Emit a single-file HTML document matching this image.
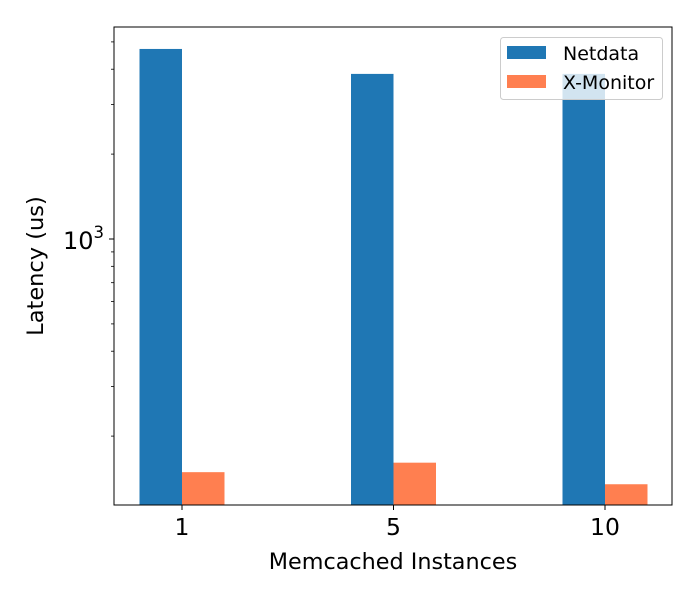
<!DOCTYPE html>
<html><head><meta charset="utf-8"><style>body{margin:0;background:#fff}svg{display:block;font-family:"DejaVu Sans","Liberation Sans",sans-serif}</style></head>
<body>
<svg id="chart" width="700" height="600"></svg>
<script>
const categories = ["1","5","10"];
const netdata = [4720, 3850, 3850];
const xmonitor = [149, 161, 135];
const seriesNames = ["Netdata","X-Monitor"];
const colors = ["#1f77b4","#ff7f50"];
const ns="http://www.w3.org/2000/svg", svg=document.getElementById('chart');
const L=114,R=672,T=27,B=505;
function y(v){return 239-282*Math.log10(v/1000);}
function x(i){return 182+i*211.5;}
function mk(t,a,p){const e=document.createElementNS(ns,t);for(const k in a)e.setAttribute(k,a[k]);(p||svg).appendChild(e);return e;}
const bw=42.5;
[netdata,xmonitor].forEach((s,si)=>{s.forEach((v,i)=>{
 const r=mk('rect',{x:x(i)+(si?0:-bw),y:y(v),width:bw,height:B-y(v),fill:colors[si]});
 
 
});});
const f=mk('rect',{x:L,y:T,width:R-L,height:B-T,fill:'none',stroke:'#000','stroke-width':1});

categories.forEach((c,i)=>{mk('line',{x1:x(i),x2:x(i),y1:B,y2:B+5,stroke:'#000'});
 const t=mk('text',{x:x(i),y:B+30,'text-anchor':'middle','font-size':23.5});t.textContent=c;
 });
for(let d=100;d<=1000;d*=10)for(let m=1;m<10;m++){const v=d*m;const yy=y(v);if(yy<T||yy>B)continue;
 const major=(m===1);mk('line',{x1:L,x2:L-(major?5:3),y1:yy,y2:yy,stroke:'#000','stroke-width':major?1:0.8});}
const yt=mk('text',{x:104,y:249,'text-anchor':'end','font-size':24});yt.innerHTML='10<tspan dy="-11" font-size="16.5">3</tspan>';

const xl=mk('text',{x:393,y:569,'text-anchor':'middle','font-size':22.3});xl.textContent='Memcached Instances';

const yl=mk('text',{x:43,y:266,'text-anchor':'middle','font-size':22.5,transform:'rotate(-90 43 266)'});yl.textContent='Latency (us)';

const lg=mk('g',{});
mk('rect',{x:500.5,y:37.5,width:162,height:62,rx:3,fill:'#fff','fill-opacity':0.8,stroke:'#ccc'},lg);
seriesNames.forEach((n,i)=>{const e=mk('g',{},lg);
 mk('rect',{x:507,y:46+i*29,width:39,height:13,fill:colors[i]},e);
 const t=mk('text',{x:563,y:60+i*29,'font-size':19},e);t.textContent=n;});
</script>
</body></html>
